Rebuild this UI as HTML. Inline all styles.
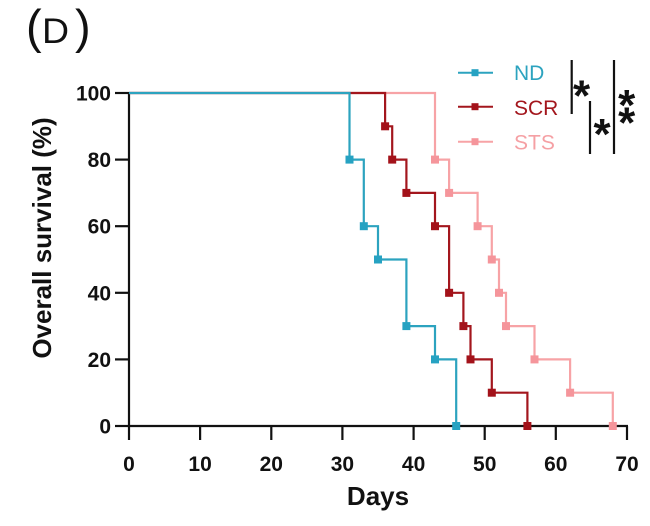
<!DOCTYPE html>
<html>
<head>
<meta charset="utf-8">
<style>
html,body{margin:0;padding:0;background:#fff;}
svg{display:block;}
text{font-family:"Liberation Sans",Arial,sans-serif;}
</style>
</head>
<body>
<svg width="650" height="526" viewBox="0 0 650 526" xmlns="http://www.w3.org/2000/svg">
<rect width="650" height="526" fill="#fff"/>
<!-- Panel label -->
<text x="26" y="43" font-size="47" fill="#111">(</text>
<text transform="translate(42,43) scale(1.07,1)" x="0" y="0" font-size="35" fill="#111">D</text>
<text x="75" y="43" font-size="47" fill="#111">)</text>

<!-- Axes -->
<g stroke="#111" stroke-width="2.2" fill="none">
  <line x1="129" y1="92" x2="129" y2="427"/>
  <line x1="128" y1="426" x2="628" y2="426"/>
  <!-- y ticks -->
  <line x1="115" y1="93" x2="129" y2="93"/>
  <line x1="115" y1="159.6" x2="129" y2="159.6"/>
  <line x1="115" y1="226.2" x2="129" y2="226.2"/>
  <line x1="115" y1="292.8" x2="129" y2="292.8"/>
  <line x1="115" y1="359.4" x2="129" y2="359.4"/>
  <line x1="115" y1="426" x2="129" y2="426"/>
  <!-- x ticks -->
  <line x1="129" y1="426" x2="129" y2="440"/>
  <line x1="200.1" y1="426" x2="200.1" y2="440"/>
  <line x1="271.3" y1="426" x2="271.3" y2="440"/>
  <line x1="342.4" y1="426" x2="342.4" y2="440"/>
  <line x1="413.6" y1="426" x2="413.6" y2="440"/>
  <line x1="484.7" y1="426" x2="484.7" y2="440"/>
  <line x1="555.8" y1="426" x2="555.8" y2="440"/>
  <line x1="627" y1="426" x2="627" y2="440"/>
</g>

<!-- y tick labels -->
<g font-size="21" font-weight="bold" fill="#111" text-anchor="end">
  <text x="111" y="100.5">100</text>
  <text x="111" y="167.1">80</text>
  <text x="111" y="233.7">60</text>
  <text x="111" y="300.3">40</text>
  <text x="111" y="366.9">20</text>
  <text x="111" y="433.5">0</text>
</g>
<!-- x tick labels -->
<g font-size="21" font-weight="bold" fill="#111" text-anchor="middle">
  <text x="129" y="471">0</text>
  <text x="200.1" y="471">10</text>
  <text x="271.3" y="471">20</text>
  <text x="342.4" y="471">30</text>
  <text x="413.6" y="471">40</text>
  <text x="484.7" y="471">50</text>
  <text x="555.8" y="471">60</text>
  <text x="627" y="471">70</text>
</g>

<!-- Axis titles -->
<text x="378" y="505" font-size="26" font-weight="bold" fill="#111" text-anchor="middle">Days</text>
<text transform="translate(51,238) rotate(-90)" font-size="26" font-weight="bold" fill="#111" text-anchor="middle">Overall survival (%)</text>

<!-- STS -->
<path d="M129,93 H435 V159.6 H449.1 V192.9 H477.6 V226.2 H491.8 V259.5 H499 V292.8 H506 V326.1 H534.5 V359.4 H570.1 V392.7 H612.8 V426" stroke="#F7A3A6" stroke-width="2.2" fill="none"/>
<g fill="#F5959B">
  <rect x="431" y="155.6" width="8" height="8"/>
  <rect x="445.1" y="188.9" width="8" height="8"/>
  <rect x="473.6" y="222.2" width="8" height="8"/>
  <rect x="487.8" y="255.5" width="8" height="8"/>
  <rect x="495" y="288.8" width="8" height="8"/>
  <rect x="502" y="322.1" width="8" height="8"/>
  <rect x="530.5" y="355.4" width="8" height="8"/>
  <rect x="566.1" y="388.7" width="8" height="8"/>
  <rect x="608.8" y="422" width="8" height="8"/>
</g>

<!-- SCR -->
<path d="M129,93 H385.1 V126.3 H392.2 V159.6 H406.4 V192.9 H435 V226.2 H449.1 V292.8 H463.4 V326.1 H470.5 V359.4 H491.8 V392.7 H527.4 V426" stroke="#A3161D" stroke-width="2.2" fill="none"/>
<g fill="#A3121A">
  <rect x="381.1" y="122.3" width="8" height="8"/>
  <rect x="388.2" y="155.6" width="8" height="8"/>
  <rect x="402.4" y="188.9" width="8" height="8"/>
  <rect x="431" y="222.2" width="8" height="8"/>
  <rect x="445.1" y="288.8" width="8" height="8"/>
  <rect x="459.4" y="322.1" width="8" height="8"/>
  <rect x="466.5" y="355.4" width="8" height="8"/>
  <rect x="487.8" y="388.7" width="8" height="8"/>
  <rect x="523.4" y="422" width="8" height="8"/>
</g>

<!-- ND -->
<path d="M129,93 H349.5 V159.6 H363.8 V226.2 H378 V259.5 H406.4 V326.1 H435 V359.4 H456.2 V426" stroke="#2CA3BF" stroke-width="2.2" fill="none"/>
<g fill="#26A2C2">
  <rect x="345.5" y="155.6" width="8" height="8"/>
  <rect x="359.8" y="222.2" width="8" height="8"/>
  <rect x="374" y="255.5" width="8" height="8"/>
  <rect x="402.4" y="322.1" width="8" height="8"/>
  <rect x="431" y="355.4" width="8" height="8"/>
  <rect x="452.2" y="422" width="8" height="8"/>
</g>

<!-- Legend -->
<line x1="458" y1="72.7" x2="493" y2="72.7" stroke="#2CA3BF" stroke-width="2"/>
<rect x="471.5" y="69.2" width="7" height="7" fill="#26A2C2"/>
<text x="514" y="80" font-size="21" fill="#2CA3BF">ND</text>
<line x1="458" y1="106.7" x2="493" y2="106.7" stroke="#A3161D" stroke-width="2"/>
<rect x="471.5" y="103.2" width="7" height="7" fill="#A3121A"/>
<text x="514" y="115" font-size="21" fill="#A3161D">SCR</text>
<line x1="458" y1="141.7" x2="493" y2="141.7" stroke="#F7A3A6" stroke-width="2"/>
<rect x="471.5" y="138.2" width="7" height="7" fill="#F5959B"/>
<text x="514" y="149.5" font-size="21" fill="#F5A0A4">STS</text>

<!-- Significance -->
<g stroke="#111" stroke-width="2.2">
  <line x1="571.7" y1="60" x2="571.7" y2="114"/>
  <line x1="590" y1="101" x2="590" y2="154"/>
  <line x1="614" y1="60" x2="614" y2="154"/>
</g>
<g font-size="44" font-weight="bold" fill="#111" text-anchor="middle">
  <text x="581.5" y="110.5">*</text>
  <text x="602" y="149">*</text>
  <text x="626.7" y="120">*</text>
  <text x="626.7" y="137.5">*</text>
</g>
</svg>
</body>
</html>
